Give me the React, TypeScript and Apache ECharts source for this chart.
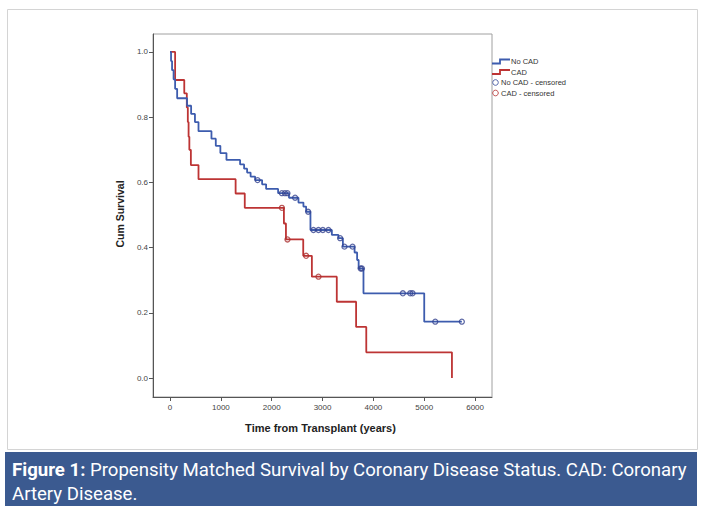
import React, { useEffect, useRef } from "react";
import * as echarts from "echarts";

// No CAD (blue) Kaplan-Meier steps
const noCadTimes = [0, 20, 40, 70, 100, 140, 335, 415, 490, 560, 815, 900, 990, 1110, 1378, 1457, 1516, 1585, 1673, 1811, 1890, 2126, 2340, 2526, 2624, 2677, 2762, 3183, 3313, 3400, 3630, 3680, 3710, 3805, 5000, 5740];
const noCadSurv = [1.0, 0.972, 0.944, 0.916, 0.887, 0.858, 0.835, 0.81, 0.785, 0.757, 0.734, 0.712, 0.69, 0.669, 0.655, 0.642, 0.63, 0.618, 0.607, 0.594, 0.58, 0.567, 0.553, 0.538, 0.526, 0.51, 0.454, 0.439, 0.429, 0.403, 0.385, 0.362, 0.336, 0.26, 0.173, 0.173];
const noCadCensorT = [1722, 2200, 2260, 2310, 2460, 2717, 2821, 2920, 3006, 3116, 3346, 3431, 3590, 3750, 3775, 4580, 4724, 4770, 5217, 5740];
const noCadCensorS = [0.607, 0.567, 0.567, 0.567, 0.553, 0.51, 0.454, 0.454, 0.454, 0.454, 0.429, 0.403, 0.403, 0.336, 0.336, 0.26, 0.26, 0.26, 0.173, 0.173];

// CAD (red) Kaplan-Meier steps
const cadTimes = [0, 100, 280, 330, 350, 365, 380, 410, 560, 1290, 1470, 2240, 2280, 2620, 2790, 3280, 3660, 3860, 5545];
const cadSurv = [1.0, 0.914, 0.873, 0.83, 0.785, 0.74, 0.7, 0.653, 0.61, 0.566, 0.522, 0.474, 0.425, 0.375, 0.311, 0.234, 0.157, 0.079, 0.0];
const cadCensorT = [2200, 2310, 2677, 2920];
const cadCensorS = [0.522, 0.425, 0.375, 0.311];

const xTicks = [0, 1000, 2000, 3000, 4000, 5000, 6000];
const yTicks = [0, 0.2, 0.4, 0.6, 0.8, 1.0];

const legendLabels = ["No CAD", "CAD", "No CAD - censored", "CAD - censored"];
const captionBold = "Figure 1:";
const captionLine1 = " Propensity Matched Survival by Coronary Disease Status. CAD: Coronary";
const captionLine2 = "Artery Disease.";
const xTitle = "Time from Transplant (years)";
const yTitle = "Cum Survival";

const BLUE = "#3d5cae";
const RED = "#bd3434";
const BLUE_C = "#34428f";
const RED_C = "#a93030";
const FONT = "'Liberation Sans', Arial, sans-serif";

export default function App() {
  const ref = useRef<HTMLDivElement>(null);
  useEffect(() => {
    document.body.style.margin = "0";
    const chart = echarts.init(ref.current!, null, { renderer: "svg" });
    const zip = (a: number[], b: number[]) => a.map((v, i) => [v, b[i]]);
    const legendY = [61.5, 72, 82.5, 93];
    const option: any = {
      animation: false,
      backgroundColor: "#ffffff",
      grid: {
        left: 153,
        top: 34,
        width: 339,
        height: 363,
        show: true,
        borderColor: "#a0a0a0",
        borderWidth: 1,
      },
      xAxis: {
        type: "value",
        min: -335,
        max: 6333,
        axisLine: { show: true, onZero: false, lineStyle: { color: "#555", width: 1 } },
        axisTick: { show: true, length: 4, customValues: xTicks, lineStyle: { color: "#555" } },
        axisLabel: {
          customValues: xTicks,
          fontSize: 8,
          color: "#444",
          margin: 6,
          fontFamily: FONT,
          formatter: (v: number) => String(Math.round(v)),
        },
        splitLine: { show: false },
      },
      yAxis: {
        type: "value",
        min: -0.058,
        max: 1.055,
        axisLine: { show: true, onZero: false, lineStyle: { color: "#555", width: 1 } },
        axisTick: { show: true, length: 4, customValues: yTicks, lineStyle: { color: "#555" } },
        axisLabel: {
          customValues: yTicks,
          fontSize: 8,
          color: "#444",
          margin: 5,
          fontFamily: FONT,
          formatter: (v: number) => v.toFixed(1),
        },
        splitLine: { show: false },
      },
      series: [
        {
          name: "CAD",
          type: "line",
          step: "end",
          showSymbol: false,
          data: zip(cadTimes, cadSurv),
          lineStyle: { color: RED, width: 1.8 },
          itemStyle: { color: RED },
          z: 2,
        },
        {
          name: "No CAD",
          type: "line",
          step: "end",
          showSymbol: false,
          data: zip(noCadTimes, noCadSurv),
          lineStyle: { color: BLUE, width: 1.8 },
          itemStyle: { color: BLUE },
          z: 3,
        },
        {
          name: "CAD - censored",
          type: "scatter",
          symbol: "circle",
          symbolSize: 5,
          data: zip(cadCensorT, cadCensorS),
          itemStyle: { color: "rgba(255,255,255,0)", borderColor: RED_C, borderWidth: 1.3 },
          z: 4,
        },
        {
          name: "No CAD - censored",
          type: "scatter",
          symbol: "circle",
          symbolSize: 5,
          data: zip(noCadCensorT, noCadCensorS),
          itemStyle: { color: "rgba(255,255,255,0)", borderColor: BLUE_C, borderWidth: 1.3 },
          z: 5,
        },
      ],
      graphic: [
        {
          type: "rect",
          shape: { x: 7.5, y: 9.5, width: 690, height: 440 },
          style: { fill: "none", stroke: "#d4d4d4", lineWidth: 1 },
          silent: true,
          z: -10,
        },
        {
          type: "rect",
          shape: { x: 5, y: 452, width: 692, height: 54 },
          style: { fill: "#3b5a90" },
          silent: true,
        },
        {
          type: "text",
          x: 12,
          y: 470,
          style: {
            text: "{b|" + captionBold + "}" + captionLine1,
            fill: "#ffffff",
            fontSize: 18.6,
            fontFamily: "Roboto, sans-serif",
            verticalAlign: "middle",
            rich: { b: { fontWeight: "bold", fontSize: 18.6, fill: "#ffffff", fontFamily: "Roboto, sans-serif" } },
          },
        },
        {
          type: "text",
          x: 12,
          y: 494,
          style: {
            text: captionLine2,
            fill: "#ffffff",
            fontSize: 18.6,
            fontFamily: "Roboto, sans-serif",
            verticalAlign: "middle",
          },
        },
        {
          type: "text",
          x: 320.5,
          y: 428,
          style: {
            text: xTitle,
            fill: "#222",
            fontSize: 11,
            fontWeight: "bold",
            fontFamily: FONT,
            align: "center",
            verticalAlign: "middle",
          },
        },
        {
          type: "text",
          x: 120,
          y: 214,
          rotation: Math.PI / 2,
          style: {
            text: yTitle,
            fill: "#222",
            fontSize: 10.5,
            fontWeight: "bold",
            fontFamily: FONT,
            align: "center",
            verticalAlign: "middle",
          },
        },
        {
          type: "polyline",
          shape: { points: [[492, legendY[0] + 2], [500, legendY[0] + 2], [500, legendY[0] - 2], [510, legendY[0] - 2]] },
          style: { stroke: BLUE, lineWidth: 1.8, fill: "none" },
        },
        {
          type: "polyline",
          shape: { points: [[492, legendY[1] + 2], [500, legendY[1] + 2], [500, legendY[1] - 2], [510, legendY[1] - 2]] },
          style: { stroke: RED, lineWidth: 1.8, fill: "none" },
        },
        {
          type: "circle",
          shape: { cx: 495.5, cy: legendY[2], r: 2.8 },
          style: { stroke: "#5566aa", lineWidth: 1, fill: "none" },
        },
        {
          type: "circle",
          shape: { cx: 495.5, cy: legendY[3], r: 2.8 },
          style: { stroke: "#c05050", lineWidth: 1, fill: "none" },
        },
        ...legendLabels.map((t, i) => ({
          type: "text",
          x: i < 2 ? 511 : 501,
          y: legendY[i],
          style: {
            text: t,
            fill: "#333",
            fontSize: 7.5,
            fontFamily: FONT,
            verticalAlign: "middle",
          },
        })),
      ],
    };
    chart.setOption(option);
    return () => chart.dispose();
  }, []);
  return <div ref={ref} style={{ width: 702, height: 506 }} />;
}
